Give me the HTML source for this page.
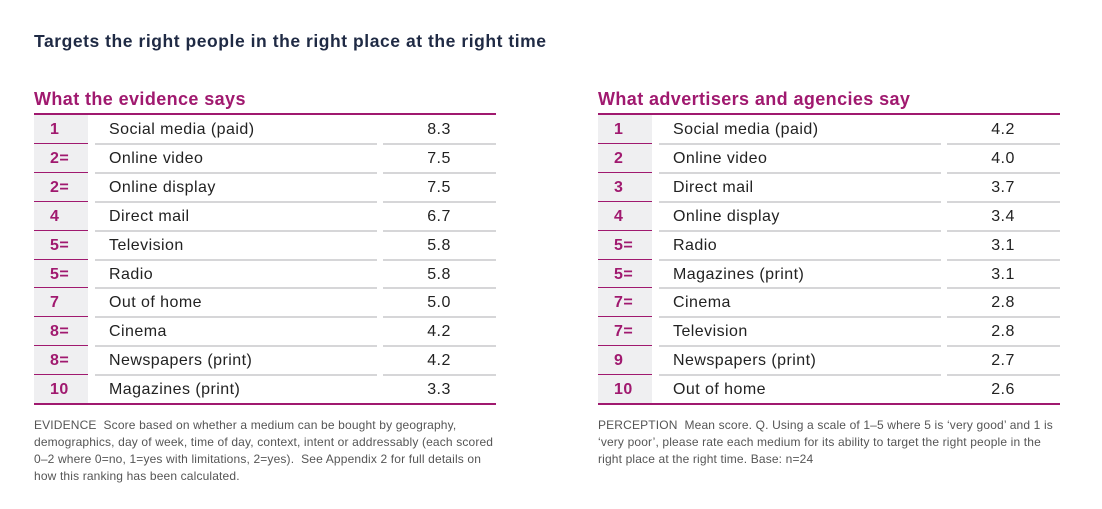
<!DOCTYPE html>
<html><head><meta charset="utf-8"><style>
body{margin:0;width:1102px;height:509px;background:#fff;font-family:"Liberation Sans",sans-serif;position:relative;overflow:hidden}
.abs{position:absolute}
.title{left:34px;top:31px;font-size:17.5px;font-weight:bold;color:#1f2a44;letter-spacing:0.55px}
.h{font-size:18px;font-weight:bold;color:#a0196f;top:89px;letter-spacing:0.4px}
.cell{position:absolute;font-size:16px;color:#222;line-height:29px;height:29px;letter-spacing:0.45px}
.note{font-size:12px;color:#555;line-height:17px;width:462px;letter-spacing:0.15px}
</style></head><body>
<div class="abs title">Targets the right people in the right place at the right time</div>
<div class="abs h" style="left:34px">What the evidence says</div>
<div class="abs h" style="left:598px">What advertisers and agencies say</div>
<div id="t1"></div>
<div id="t2"></div>
<div class="abs note" style="left:34px;top:417px">EVIDENCE&nbsp; Score based on whether a medium can be bought by geography, demographics, day of week, time of day, context, intent or addressably (each scored 0–2 where 0=no, 1=yes with limitations, 2=yes).&nbsp; See Appendix 2 for full details on how this ranking has been calculated.</div>
<div class="abs note" style="left:598px;top:417px">PERCEPTION&nbsp; Mean score. Q. Using a scale of 1–5 where 5 is ‘very good’ and 1 is ‘very poor’, please rate each medium for its ability to target the right people in the right place at the right time. Base: n=24</div>
<script>
const evRanks=["1","2=","2=","4","5=","5=","7","8=","8=","10"];
const evMedia=["Social media (paid)","Online video","Online display","Direct mail","Television","Radio","Out of home","Cinema","Newspapers (print)","Magazines (print)"];
const evScores=[8.3,7.5,7.5,6.7,5.8,5.8,5.0,4.2,4.2,3.3];
const peRanks=["1","2","3","4","5=","5=","7=","7=","9","10"];
const peMedia=["Social media (paid)","Online video","Direct mail","Online display","Radio","Magazines (print)","Cinema","Television","Newspapers (print)","Out of home"];
const peScores=[4.2,4.0,3.7,3.4,3.1,3.1,2.8,2.8,2.7,2.6];
function build(id,x0,ranks,media,scores){
  const root=document.getElementById(id);
  const top=115,rh=28.9;
  const hl=document.createElement('div');hl.className='abs';
  
  
  hl.style.cssText=`left:${x0}px;top:113px;width:462px;height:2px;background:#a0196f`;root.appendChild(hl);
  ranks.forEach((r,i)=>{
    const y=top+i*rh;
    const bg=document.createElement('div');bg.className='abs';
    
    
    bg.style.cssText=`left:${x0}px;top:${y}px;width:54px;height:${rh}px;background:#efeff1`;root.appendChild(bg);
    const rk=document.createElement('div');rk.className='cell';
    
    
    rk.style.cssText+=`left:${x0+16}px;top:${y}px;color:#a0196f;font-weight:bold`;rk.textContent=r;root.appendChild(rk);
    const nm=document.createElement('div');nm.className='cell';
    
    
    nm.style.cssText+=`left:${x0+75}px;top:${y}px`;nm.textContent=media[i];root.appendChild(nm);
    const vl=document.createElement('div');vl.className='cell';
    
    
    vl.style.cssText+=`left:${x0+349}px;width:112px;text-align:center;top:${y}px`;vl.textContent=scores[i].toFixed(1);root.appendChild(vl);
    const by=y+rh-1;
    if(i<ranks.length-1){
      [[0,54,'#a0196f'],[61,282,'#d6d6d8'],[349,113,'#d6d6d8']].forEach(s=>{
        const l=document.createElement('div');l.className='abs';
        
        
        l.style.cssText=`left:${x0+s[0]}px;top:${by}px;width:${s[1]}px;height:2px;background:${s[2]}`;root.appendChild(l);
      });
    } else {
      const l=document.createElement('div');l.className='abs';
      
      
      l.style.cssText=`left:${x0}px;top:${by}px;width:462px;height:2px;background:#a0196f`;root.appendChild(l);
    }
  });
}
build('t1',34,evRanks,evMedia,evScores);
build('t2',598,peRanks,peMedia,peScores);
</script>
</body></html>
